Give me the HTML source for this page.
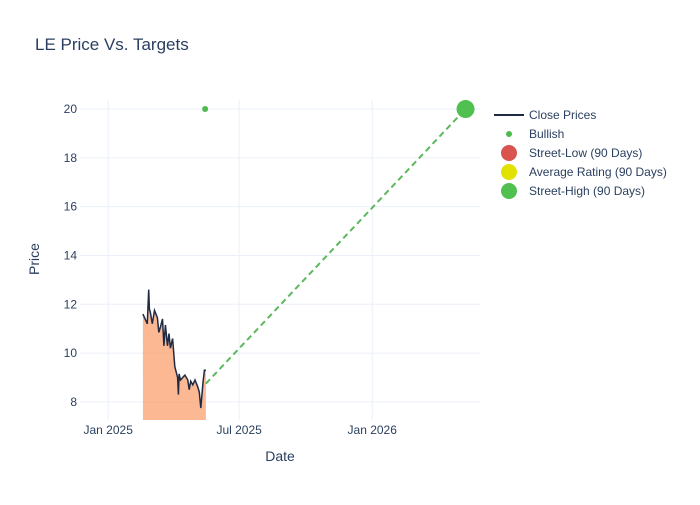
<!DOCTYPE html>
<html><head><meta charset="utf-8"><style>
body{margin:0;background:#fff;font-family:"Liberation Sans","DejaVu Sans",sans-serif}
svg text{fill:#2a3f5f}
</style></head><body>
<svg id="chart" width="700" height="500" xmlns="http://www.w3.org/2000/svg">
<rect width="700" height="500" fill="#fff"/>
<text x="35" y="50" font-size="17">LE Price Vs. Targets</text>
<g id="grid"></g>
<g id="plot"></g>
<g id="axes"></g>
<text x="280" y="461" font-size="14" text-anchor="middle">Date</text>
<text transform="translate(39,259) rotate(-90)" font-size="14" text-anchor="middle">Price</text>
<g font-size="12">
<g><line x1="494" y1="115" x2="524" y2="115" stroke="#1f2a44" stroke-width="2"/><text x="529" y="119">Close Prices</text></g>
<g><circle cx="509" cy="134" r="3" fill="#4cbb4c"/><text x="529" y="138">Bullish</text></g>
<g><circle cx="509" cy="153" r="8" fill="#d9534f"/><text x="529" y="157">Street-Low (90 Days)</text></g>
<g><circle cx="509" cy="172" r="8" fill="#e2e200"/><text x="529" y="176">Average Rating (90 Days)</text></g>
<g><circle cx="509" cy="191" r="8" fill="#50c050"/><text x="529" y="195">Street-High (90 Days)</text></g>
</g>
</svg>
<script>
const dates=["2025-02-18","2025-02-21","2025-02-24","2025-02-26","2025-02-27","2025-02-28","2025-03-03","2025-03-06","2025-03-10","2025-03-12","2025-03-14","2025-03-17","2025-03-19","2025-03-21","2025-03-24","2025-03-26","2025-03-28","2025-03-31","2025-04-03","2025-04-07","2025-04-08","2025-04-09","2025-04-11","2025-04-14","2025-04-17","2025-04-21","2025-04-23","2025-04-25","2025-04-28","2025-05-01","2025-05-05","2025-05-07","2025-05-09","2025-05-12","2025-05-14","2025-05-16"];
const closes=[11.6,11.4,11.2,12.6,11.8,11.7,11.2,11.75,11.45,10.85,11.05,11.4,10.3,11.15,10.3,10.8,10.2,10.6,9.45,9.0,8.3,9.15,8.9,9.0,9.1,8.9,8.5,8.85,8.7,8.9,8.6,8.4,7.75,8.8,9.3,9.3];
const bullishDates=["2025-05-15"];
const bullishValues=[20];
const targetLineDates=["2025-05-16","2026-05-10"];
const targetLineValues=[8.75,20];
const streetHighDate="2026-05-10";
const streetHighValue=20;
const yTicks=[8,10,12,14,16,18,20];
const xTickDates=["2025-01-01","2025-07-01","2026-01-01"];
const xTickLabels=["Jan 2025","Jul 2025","Jan 2026"];

const NS="http://www.w3.org/2000/svg";
const L=80,R=480,T=100,B=420;
const d0=Date.parse("2024-11-23"),d1=Date.parse("2026-05-30");
const yMin=7.26,yMax=20.37;
const X=d=>L+(Date.parse(d)-d0)/(d1-d0)*(R-L);
const Y=v=>B-(v-yMin)/(yMax-yMin)*(B-T);
function mk(tag,attrs,parent){const e=document.createElementNS(NS,tag);for(const k in attrs)e.setAttribute(k,attrs[k]);parent.appendChild(e);return e;}
const grid=document.getElementById('grid'),plot=document.getElementById('plot'),axes=document.getElementById('axes');
yTicks.forEach(v=>{const g=mk('line',{x1:L,x2:R,y1:Y(v),y2:Y(v),stroke:'#ebf0f8'},grid);

const t=mk('text',{x:L-3,y:Y(v)+4,'font-size':12,'text-anchor':'end'},axes);t.textContent=v;
});
xTickDates.forEach((d,i)=>{const g=mk('line',{x1:X(d),x2:X(d),y1:T,y2:B,stroke:'#ebf0f8'},grid);

const t=mk('text',{x:X(d),y:B+14,'font-size':12,'text-anchor':'middle'},axes);t.textContent=xTickLabels[i];
});
let pts=dates.map((d,i)=>X(d).toFixed(1)+','+Y(closes[i]).toFixed(1));
const area=mk('path',{d:'M'+X(dates[0])+','+B+' L'+pts.join(' L')+' L'+X(dates[dates.length-1])+','+B+'Z',fill:'rgba(250,160,110,0.75)'},plot);

const line=mk('path',{d:'M'+pts.join(' L'),fill:'none',stroke:'#1f2a44','stroke-width':1.5},plot);

const tl=mk('line',{x1:X(targetLineDates[0]),y1:Y(targetLineValues[0]),x2:X(targetLineDates[1]),y2:Y(targetLineValues[1]),stroke:'#5cb85c','stroke-width':2,'stroke-dasharray':'6,4'},plot);

bullishDates.forEach((d,i)=>{const c=mk('circle',{cx:X(d),cy:Y(bullishValues[i]),r:3,fill:'#4cbb4c'},plot);
});
const sh=mk('circle',{cx:X(streetHighDate),cy:Y(streetHighValue),r:9,fill:'#50c050'},plot);

</script>
</body></html>
